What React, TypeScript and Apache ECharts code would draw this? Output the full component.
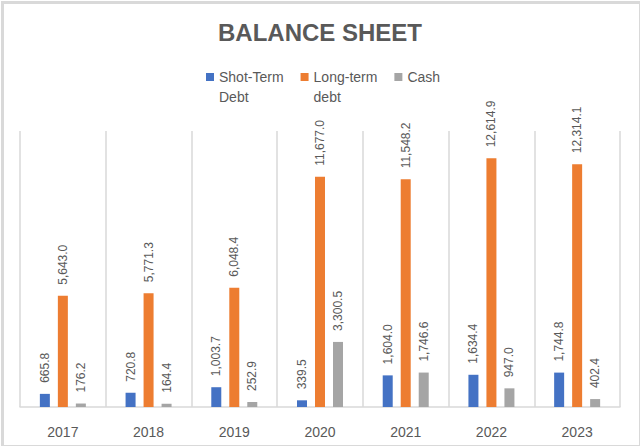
import React, { useEffect, useRef } from "react";
import * as echarts from "echarts";

const years = ["2017", "2018", "2019", "2020", "2021", "2022", "2023"];
const shortTermDebt = [665.8, 720.8, 1003.7, 339.5, 1604.0, 1634.4, 1744.8];
const longTermDebt = [5643.0, 5771.3, 6048.4, 11677.0, 11548.2, 12614.9, 12314.1];
const cash = [176.2, 164.4, 252.9, 3300.5, 1746.6, 947.0, 402.4];

const seriesNames = ["Shot-Term\nDebt", "Long-term\ndebt", "Cash"];
const colors = ["#4472C4", "#ED7D31", "#A5A5A5"];

const fmt = (v: number) =>
  v.toLocaleString("en-US", { minimumFractionDigits: 1, maximumFractionDigits: 1 });

export default function App() {
  const ref = useRef<HTMLDivElement>(null);
  useEffect(() => {
    document.body.style.margin = "0";
    const chart = echarts.init(ref.current!, null, { renderer: "svg" });
    const font = "'Liberation Sans', Arial, sans-serif";
    const mkSeries = (name: string, data: number[], color: string) => ({
      name,
      type: "bar",
      data,
      barWidth: 10,
      barGap: "80%",
      itemStyle: { color },
      label: {
        show: true,
        position: "top",
        rotate: 90,
        align: "left",
        verticalAlign: "middle",
        distance: 11,
        color: "#595959",
        fontSize: 12,
        fontFamily: font,
        formatter: (p: any) => fmt(p.value),
      },
    });
    const legendIcon = "path://M0,6H8V14H0Z M0,0L0,0 M0,40L0,40";
    chart.setOption({
      animation: false,
      color: colors,
      title: {
        text: "BALANCE SHEET",
        left: "center",
        top: 15,
        textStyle: {
          color: "#595959",
          fontSize: 24,
          fontWeight: "bold",
          fontFamily: font,
        },
      },
      legend: {
        left: 201,
        top: 62,
        itemWidth: 8,
        itemHeight: 40,
        itemGap: 17,
        icon: legendIcon,
        formatter: (name: string) => (name.indexOf("\n") < 0 ? name + "\n " : name),
        textStyle: {
          color: "#595959",
          fontSize: 14,
          lineHeight: 20,
          fontFamily: font,
        },
        data: seriesNames,
      },
      grid: { left: 20, right: 20, top: 131, bottom: 39 },
      xAxis: {
        type: "category",
        data: years,
        axisLine: { lineStyle: { color: "#d9d9d9", width: 1.5 } },
        axisTick: { show: false },
        splitLine: { show: true, lineStyle: { color: "#d9d9d9", width: 1.5 } },
        axisLabel: {
          color: "#595959",
          fontSize: 14,
          margin: 18,
          fontFamily: font,
        },
      },
      yAxis: {
        type: "value",
        min: 0,
        max: 14000,
        show: false,
        splitLine: { show: false },
      },
      graphic: [
        {
          type: "rect",
          left: 0,
          top: 0,
          shape: { width: 638, height: 444 },
          style: { fill: "none", stroke: "#d9d9d9", lineWidth: 3 },
          silent: true,
        },
      ],
      series: [
        mkSeries(seriesNames[0], shortTermDebt, colors[0]),
        mkSeries(seriesNames[1], longTermDebt, colors[1]),
        mkSeries(seriesNames[2], cash, colors[2]),
      ],
    });
    return () => chart.dispose();
  }, []);
  return <div ref={ref} style={{ width: 640, height: 446 }} />;
}
